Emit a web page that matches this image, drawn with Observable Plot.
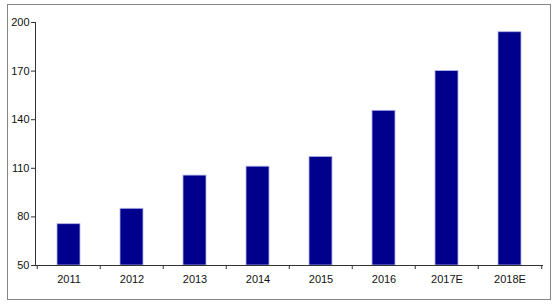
<!DOCTYPE html>
<html>
<head>
<meta charset="utf-8">
<script src="https://cdn.jsdelivr.net/npm/d3@7"></script>
<script src="https://cdn.jsdelivr.net/npm/@observablehq/plot@0.6"></script>
<style>
  html, body { margin: 0; padding: 0; background: #fff; }
  #wrap { position: relative; width: 558px; height: 306px; overflow: hidden; }
  #border { position: absolute; left: 7px; top: 4px; width: 544px; height: 296px; box-sizing: border-box; border: 1px solid #858585; }
  #chart { position: absolute; left: 0; top: 0; }
</style>
</head>
<body>
<div id="wrap"><div id="border"></div><div id="chart"></div></div>
<script>
const years = ["2011", "2012", "2013", "2014", "2015", "2016", "2017E", "2018E"];
const values = [75.5, 85, 105.5, 111, 117, 145.5, 170, 194];
const yTicks = [50, 80, 110, 140, 170, 200];

const data = years.map((year, i) => ({year, value: values[i]}));
const lastYear = [years[years.length - 1]];
const halfStep = (558 - 35 - 15) / years.length / 2;

const chart = Plot.plot({
  width: 558,
  height: 306,
  marginLeft: 35,
  marginRight: 15,
  marginTop: 22,
  marginBottom: 41,
  style: {fontFamily: "'Liberation Sans', Arial, sans-serif", fontSize: "11px", color: "#111", background: "transparent"},
  x: {domain: years, paddingInner: 0.63, paddingOuter: 0.315, label: null},
  y: {domain: [50, 200], label: null},
  marks: [
    Plot.barY(data, {x: "year", y1: () => 50, y2: "value", fill: "#00008c", stroke: "#b4b4ee", strokeWidth: 0.8}),
    Plot.axisY({ticks: yTicks, tickSize: 4, tickPadding: 2, label: null, stroke: "#333", strokeOpacity: 1}),
    Plot.axisX({tickSize: 0, tickPadding: 10, label: null}),
    Plot.ruleY([50], {stroke: "#333"}),
    Plot.ruleX(years, {x: d => d, dx: -halfStep, y1: () => 50, y2: () => 47.5, stroke: "#333", clip: false}),
    Plot.ruleX(lastYear, {x: d => d, dx: halfStep, y1: () => 50, y2: () => 47.5, stroke: "#333", clip: false}),
    Plot.frame({anchor: "left", stroke: "#333"})
  ]
});
document.getElementById("chart").appendChild(chart);
</script>
</body>
</html>
